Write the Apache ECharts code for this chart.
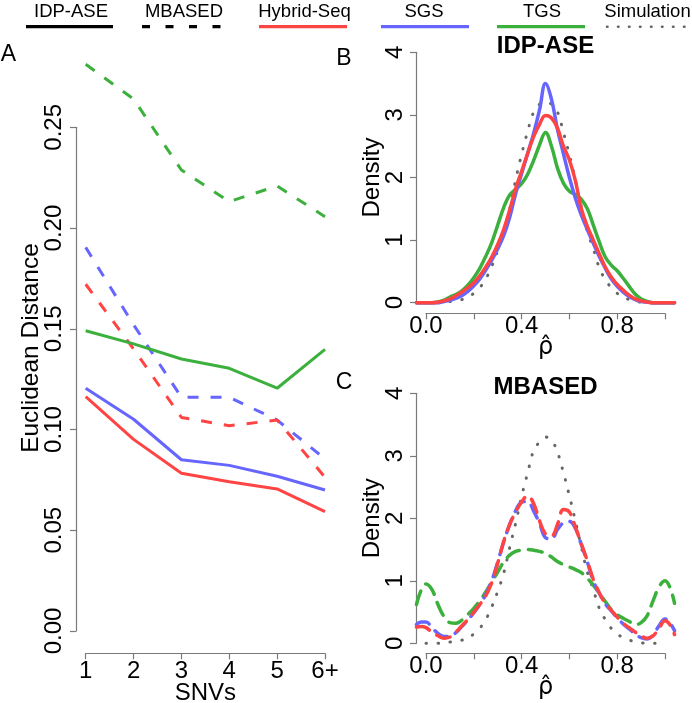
<!DOCTYPE html>
<html><head><meta charset="utf-8">
<script src="https://cdn.jsdelivr.net/npm/echarts@6/dist/echarts.min.js"></script>
<style>html,body{margin:0;padding:0;background:#fff}#c{width:692px;height:703px}</style>
</head><body><div id="c"></div><script>
// ---------- Panel A data ----------
const snvCategories = ['1', '2', '3', '4', '5', '6+'];
const idpHybrid = [0.1163, 0.0951, 0.0783, 0.0741, 0.0705, 0.0592];
const idpSGS    = [0.1205, 0.1051, 0.0850, 0.0822, 0.0768, 0.0700];
const idpTGS    = [0.1490, 0.1425, 0.1350, 0.1304, 0.1205, 0.1398];
const mbHybrid  = [0.1721, 0.1400, 0.1060, 0.1019, 0.1047, 0.0763];
const mbSGS     = [0.1904, 0.1520, 0.1160, 0.1160, 0.1047, 0.0854];
const mbTGS     = [0.2813, 0.2640, 0.2288, 0.2131, 0.2209, 0.2056];

// ---------- Panels B & C data (density of rho-hat) ----------
const rhoGrid = [-0.04, -0.02, 0, 0.025, 0.05, 0.075, 0.1, 0.125, 0.15, 0.175, 0.2, 0.225, 0.25, 0.275, 0.3, 0.325, 0.35, 0.375, 0.4, 0.425, 0.45, 0.475, 0.5, 0.525, 0.55, 0.575, 0.6, 0.625, 0.65, 0.675, 0.7, 0.725, 0.75, 0.775, 0.8, 0.825, 0.85, 0.875, 0.9, 0.925, 0.95, 0.975, 1.0, 1.02, 1.04];
const rhoSim = [0, 0.025, 0.05, 0.075, 0.1, 0.125, 0.15, 0.175, 0.2, 0.225, 0.25, 0.275, 0.3, 0.325, 0.35, 0.375, 0.4, 0.425, 0.45, 0.475, 0.5, 0.525, 0.55, 0.575, 0.6, 0.625, 0.65, 0.675, 0.7, 0.725, 0.75, 0.775, 0.8, 0.825, 0.85, 0.875, 0.9, 0.925, 0.95, 0.975, 1.0];

const idpDensTGS    = [0, 0, 0, 0, 0.01, 0.04, 0.09, 0.13, 0.19, 0.28, 0.40, 0.55, 0.74, 0.96, 1.24, 1.52, 1.72, 1.81, 1.90, 2.05, 2.27, 2.52, 2.72, 2.50, 2.15, 1.91, 1.78, 1.73, 1.65, 1.50, 1.24, 0.97, 0.73, 0.60, 0.51, 0.39, 0.26, 0.14, 0.06, 0.02, 0, 0, 0, 0, 0];
const idpDensHybrid = [0, 0, 0, 0, 0.01, 0.03, 0.06, 0.11, 0.17, 0.24, 0.32, 0.43, 0.57, 0.73, 0.93, 1.17, 1.48, 1.82, 2.10, 2.38, 2.65, 2.85, 2.99, 2.95, 2.79, 2.50, 2.28, 1.95, 1.50, 1.22, 1.00, 0.78, 0.57, 0.41, 0.29, 0.20, 0.12, 0.06, 0.03, 0.01, 0, 0, 0, 0, 0];
const idpDensSGS    = [0, 0, 0, 0, 0, 0.02, 0.04, 0.07, 0.11, 0.18, 0.27, 0.38, 0.52, 0.68, 0.86, 1.07, 1.36, 1.74, 2.06, 2.38, 2.70, 3.08, 3.50, 3.25, 2.77, 2.38, 2.00, 1.67, 1.40, 1.17, 0.95, 0.74, 0.55, 0.38, 0.26, 0.17, 0.10, 0.05, 0.02, 0.01, 0, 0, 0, 0, 0];
const idpDensSim    = [0, 0, 0, 0.01, 0.02, 0.03, 0.05, 0.09, 0.15, 0.24, 0.38, 0.58, 0.83, 1.12, 1.49, 1.96, 2.37, 2.73, 3.04, 3.17, 3.20, 3.17, 3.05, 2.72, 2.36, 1.96, 1.53, 1.14, 0.86, 0.56, 0.37, 0.24, 0.15, 0.09, 0.05, 0.03, 0.01, 0.01, 0, 0, 0];

const mbDensTGS     = [0.62, 0.85, 0.95, 0.86, 0.62, 0.43, 0.33, 0.32, 0.37, 0.46, 0.56, 0.68, 0.82, 0.98, 1.14, 1.30, 1.41, 1.47, 1.49, 1.50, 1.49, 1.47, 1.44, 1.38, 1.31, 1.26, 1.22, 1.18, 1.13, 1.04, 0.93, 0.80, 0.67, 0.54, 0.46, 0.40, 0.35, 0.30, 0.33, 0.44, 0.68, 0.90, 1.00, 0.90, 0.64];
const mbDensHybrid  = [0.26, 0.27, 0.25, 0.18, 0.12, 0.08, 0.10, 0.18, 0.28, 0.38, 0.50, 0.62, 0.76, 0.97, 1.28, 1.63, 1.90, 2.10, 2.26, 2.36, 2.24, 1.96, 1.75, 1.72, 1.90, 2.14, 2.10, 1.86, 1.59, 1.32, 1.02, 0.81, 0.64, 0.53, 0.42, 0.32, 0.25, 0.18, 0.12, 0.08, 0.12, 0.24, 0.36, 0.30, 0.14];
const mbDensSGS     = [0.30, 0.34, 0.34, 0.25, 0.16, 0.11, 0.11, 0.17, 0.27, 0.37, 0.49, 0.62, 0.78, 1.00, 1.30, 1.62, 1.90, 2.12, 2.26, 2.27, 2.12, 1.92, 1.69, 1.67, 1.82, 1.93, 1.95, 1.84, 1.58, 1.30, 1.00, 0.80, 0.63, 0.52, 0.41, 0.31, 0.23, 0.15, 0.09, 0.07, 0.13, 0.28, 0.39, 0.33, 0.20];
const mbDensSim     = [0, 0, 0, 0.01, 0.02, 0.03, 0.05, 0.08, 0.15, 0.24, 0.38, 0.58, 0.83, 1.12, 1.53, 1.92, 2.35, 2.72, 3.08, 3.22, 3.30, 3.25, 3.06, 2.73, 2.36, 1.96, 1.54, 1.14, 0.86, 0.56, 0.38, 0.24, 0.15, 0.09, 0.05, 0.03, 0.01, 0, 0, 0, 0];

// ---------- styling ----------
const FONT = 'Liberation Sans, Arial, Helvetica, sans-serif';
const RED = '#FF4444', BLUE = '#6666FF', GREEN = '#3CB03C', SIMC = '#666666';
const AXC = '#7a7a7a';
const DASH_A = [11, 12], DASH_C = [14, 9], DOT = [0.5, 11.5];

const pairs = (xs, ys) => xs.map((x, i) => [x, ys[i]]);

const axisCommon = {
  axisLine: { show: true, onZero: false, lineStyle: { color: AXC, width: 1.2 } },
  axisTick: { show: true, length: 6, lineStyle: { color: AXC, width: 1.2 } },
  splitLine: { show: false },
  nameMoveOverlap: false,
  axisLabel: { color: '#000', fontSize: 24, fontFamily: FONT },
  nameTextStyle: { color: '#000', fontSize: 24, fontFamily: FONT }
};
const rhoName = { color: '#000', fontSize: 24, fontFamily: 'DejaVu Sans, sans-serif' };

function lineA(name, data, color, dashed) {
  return { name, type: 'line', xAxisIndex: 0, yAxisIndex: 0, data, showSymbol: false, symbol: 'none', clip: false,
    lineStyle: { color, width: 3, type: dashed ? DASH_A : 'solid' }, z: 3 };
}
// density curves are drawn on hidden axes spanning the full plot region (-0.04 .. 1.04)
function dens(name, idx, xs, ys, color, type, width) {
  return { name, type: 'line', xAxisIndex: idx, yAxisIndex: idx, data: pairs(xs, ys), showSymbol: false, symbol: 'none',
    clip: false, smooth: 0.4, lineStyle: { color, width, type, cap: 'round' } };
}

const rhoFmt = v => { const r = Math.round(v * 10) / 10; return (Math.abs(r) < 1e-9 || Math.abs(r - 0.4) < 1e-9 || Math.abs(r - 0.8) < 1e-9) ? r.toFixed(1) : ''; };
const hidden = { show: false };
const G = { outerBoundsMode: 'none', containLabel: false };

const option = {
  animation: false,
  backgroundColor: '#fff',
  title: [
    { text: 'IDP-ASE', left: 545.5, top: 34, textAlign: 'center', padding: 0,
      textStyle: { fontSize: 24, fontWeight: 'bold', color: '#000', fontFamily: FONT } },
    { text: 'MBASED', left: 545.5, top: 375, textAlign: 'center', padding: 0,
      textStyle: { fontSize: 24, fontWeight: 'bold', color: '#000', fontFamily: FONT } }
  ],
  grid: [
    Object.assign({ left: 85.7, width: 239.3, top: 127.3, height: 503.7 }, G),
    Object.assign({ left: 426, width: 239, top: 52.3, height: 250.4 }, G),
    Object.assign({ left: 426, width: 239, top: 393.3, height: 250 }, G),
    Object.assign({ left: 416.44, width: 258.12, top: 52.3, height: 250.4 }, G),
    Object.assign({ left: 416.44, width: 258.12, top: 393.3, height: 250 }, G)
  ],
  xAxis: [
    Object.assign({}, axisCommon, { gridIndex: 0, type: 'category', data: snvCategories, boundaryGap: false, offset: 22.3,
      axisLabel: Object.assign({}, axisCommon.axisLabel, { margin: 6, interval: 0 }),
      name: 'SNVs', nameLocation: 'middle', nameGap: 28 }),
    Object.assign({}, axisCommon, { gridIndex: 1, type: 'value', min: 0, max: 1, interval: 0.2, offset: 10.6,
      axisLabel: Object.assign({}, axisCommon.axisLabel, { margin: 1, formatter: rhoFmt, showMinLabel: true, showMaxLabel: true }),
      name: 'ρ̂', nameLocation: 'middle', nameGap: 22, nameTextStyle: rhoName }),
    Object.assign({}, axisCommon, { gridIndex: 2, type: 'value', min: 0, max: 1, interval: 0.2, offset: 10,
      axisLabel: Object.assign({}, axisCommon.axisLabel, { margin: 1, formatter: rhoFmt, showMinLabel: true, showMaxLabel: true }),
      name: 'ρ̂', nameLocation: 'middle', nameGap: 22, nameTextStyle: rhoName }),
    { gridIndex: 3, type: 'value', min: -0.04, max: 1.04, show: false, splitLine: hidden },
    { gridIndex: 4, type: 'value', min: -0.04, max: 1.04, show: false, splitLine: hidden }
  ],
  yAxis: [
    Object.assign({}, axisCommon, { gridIndex: 0, type: 'value', min: 0, max: 0.25, interval: 0.05, offset: 9.7,
      axisLabel: Object.assign({}, axisCommon.axisLabel, { rotate: 90, margin: 10, formatter: v => v.toFixed(2), showMinLabel: true, showMaxLabel: true }) }),
    Object.assign({}, axisCommon, { gridIndex: 1, type: 'value', min: 0, max: 4, interval: 1, offset: 10,
      axisLabel: Object.assign({}, axisCommon.axisLabel, { rotate: 90, margin: 9 }),
      name: 'Density', nameLocation: 'middle', nameGap: 32 }),
    Object.assign({}, axisCommon, { gridIndex: 2, type: 'value', min: 0, max: 4, interval: 1, offset: 10,
      axisLabel: Object.assign({}, axisCommon.axisLabel, { rotate: 90, margin: 9 }),
      name: 'Density', nameLocation: 'middle', nameGap: 32 }),
    { gridIndex: 3, type: 'value', min: 0, max: 4, show: false, splitLine: hidden },
    { gridIndex: 4, type: 'value', min: 0, max: 4, show: false, splitLine: hidden }
  ],
  series: [
    lineA('TGS MBASED', mbTGS, GREEN, true),
    lineA('SGS MBASED', mbSGS, BLUE, true),
    lineA('Hybrid-Seq MBASED', mbHybrid, RED, true),
    lineA('TGS IDP-ASE', idpTGS, GREEN, false),
    lineA('SGS IDP-ASE', idpSGS, BLUE, false),
    lineA('Hybrid-Seq IDP-ASE', idpHybrid, RED, false),

    dens('Simulation B', 3, rhoSim, idpDensSim, SIMC, DOT, 3),
    dens('TGS B', 3, rhoGrid, idpDensTGS, GREEN, 'solid', 3.5),
    dens('SGS B', 3, rhoGrid, idpDensSGS, BLUE, 'solid', 3.5),
    dens('Hybrid-Seq B', 3, rhoGrid, idpDensHybrid, RED, 'solid', 3.5),

    dens('Simulation C', 4, rhoSim, mbDensSim, SIMC, DOT, 3),
    dens('TGS C', 4, rhoGrid, mbDensTGS, GREEN, DASH_C, 3.5),
    dens('SGS C', 4, rhoGrid, mbDensSGS, BLUE, DASH_C, 3.5),
    dens('Hybrid-Seq C', 4, rhoGrid, mbDensHybrid, RED, DASH_C, 3.5)
  ],
  graphic: []
};

// legend row (label text above a line sample)
const legendItems = [
  { name: 'IDP-ASE',    cx: 71,    x1: 26,  x2: 113, color: '#000', dash: null },
  { name: 'MBASED',     cx: 184,   x1: 142, x2: 223, color: '#000', dash: [8, 15.5] },
  { name: 'Hybrid-Seq', cx: 304.5, x1: 259, x2: 347, color: RED, dash: null },
  { name: 'SGS',        cx: 424,   x1: 381, x2: 469, color: BLUE, dash: null },
  { name: 'TGS',        cx: 542,   x1: 497, x2: 585, color: GREEN, dash: null },
  { name: 'Simulation', cx: 647.5, x1: 607, x2: 692, color: SIMC, dash: [0.5, 10.5] }
];
legendItems.forEach(it => {
  option.graphic.push({ type: 'text', x: it.cx, y: 12,
    style: { text: it.name, fill: '#000', font: '18.5px ' + FONT, textAlign: 'center', textVerticalAlign: 'middle' } });
  option.graphic.push({ type: 'line', shape: { x1: it.x1, y1: 26.7, x2: it.x2, y2: 26.7 },
    style: { stroke: it.color, lineWidth: it.name === 'Simulation' ? 2.6 : 3.3, lineDash: it.dash || null, lineCap: it.name === 'Simulation' ? 'round' : 'butt' } });
});
// panel letters and rotated y-axis title of panel A
[['A', 8.5, 55], ['B', 344, 59], ['C', 344, 383]].forEach(p => {
  option.graphic.push({ type: 'text', x: p[1], y: p[2],
    style: { text: p[0], fill: '#000', font: '23px ' + FONT, textAlign: 'center', textVerticalAlign: 'middle' } });
});
option.graphic.push({ type: 'text', x: 31, y: 348, rotation: Math.PI / 2,
  style: { text: 'Euclidean Distance', fill: '#000', font: '24.5px ' + FONT, textAlign: 'center', textVerticalAlign: 'middle' } });

const chart = echarts.init(document.getElementById('c'), null, { renderer: 'canvas' });
chart.setOption(option);
</script></body></html>
